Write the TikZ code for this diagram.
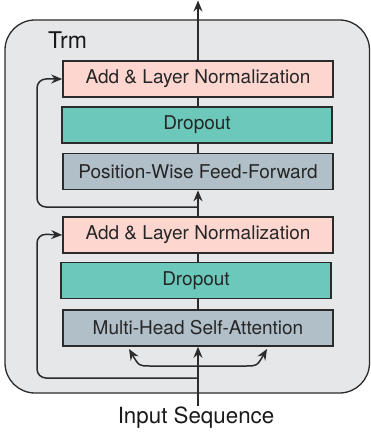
\documentclass[tikz,border=0pt]{standalone}
\usepackage{fontspec}
\setmainfont{TeX Gyre Heros}
\usetikzlibrary{arrows.meta}
\definecolor{bgc}{HTML}{E6E7E9}
\definecolor{pinkc}{HTML}{FDD6D0}
\definecolor{tealc}{HTML}{6BC8BB}
\definecolor{grayc}{HTML}{B1BFC8}
\definecolor{linec}{HTML}{2B2B2B}
\begin{document}
\begin{tikzpicture}[x=1pt,y=-1pt,
  blk/.style={draw=linec,line width=1.6pt,minimum width=270pt,minimum height=36pt,inner sep=0pt,font=\fontsize{19}{21}\selectfont,text=black!85},
  conn/.style={draw=linec,line width=1.5pt},
  arr/.style={conn,-{Stealth[length=11pt,width=9pt]}}]
\useasboundingbox (0,0) rectangle (371,438);
\fill[bgc,draw=linec,line width=1.3pt,rounded corners=30pt] (5,20) rectangle (369.5,393);
\node[font=\fontsize{23}{25}\selectfont,text=black!90] (trm) at (67.5,40) {Trm};
\node[blk,fill=pinkc] (anl1) at (198,79) {Add \& Layer Normalization};
\node[blk,fill=tealc] (drop1) at (197,125) {Dropout};
\node[blk,fill=grayc] (ffn) at (198,171.5) {Position-Wise Feed-Forward};
\node[blk,fill=pinkc] (anl2) at (198,235) {Add \& Layer Normalization};
\node[blk,fill=tealc] (drop2) at (196,280.5) {Dropout};
\node[blk,fill=grayc] (mhsa) at (198,328) {Multi-Head Self-Attention};
\node[font=\fontsize{22.3}{24}\selectfont,text=black!90,inner sep=1pt] (inp) at (196,418) {Input Sequence};
\coordinate (out) at (198,0.5);
\coordinate (s1) at (198,207);
\coordinate (s2) at (198,378);
\coordinate (c0) at (198,366);
\coordinate (ql) at (129,349);
\coordinate (qr) at (267,349);
% main path
\draw[arr] (inp.north -| mhsa.south) -- (mhsa.south);
\draw[conn] (mhsa.north) -- (drop2.south -| mhsa.north);
\draw[conn] (drop2.north -| mhsa.north) -- (anl2.south);
\draw[arr] (anl2.north) -- (ffn.south);
\draw[conn] (ffn.north) -- (drop1.south -| ffn.north);
\draw[conn] (drop1.north -| ffn.north) -- (anl1.south);
\draw[arr] (anl1.north) -- (out);
% residuals
\draw[arr,rounded corners=9pt] (s1) -- (37,207) -- (37,79) -- (anl1.west);
\draw[arr,rounded corners=9pt] (s2) -- (37,378) -- (37,234) -- (anl2.west);
% q k v split
\draw[arr] (c0) -- (150,366) .. controls (139,366) .. (ql);
\draw[arr] (c0) -- (246,366) .. controls (257,366) .. (qr);
\end{tikzpicture}
\end{document}
